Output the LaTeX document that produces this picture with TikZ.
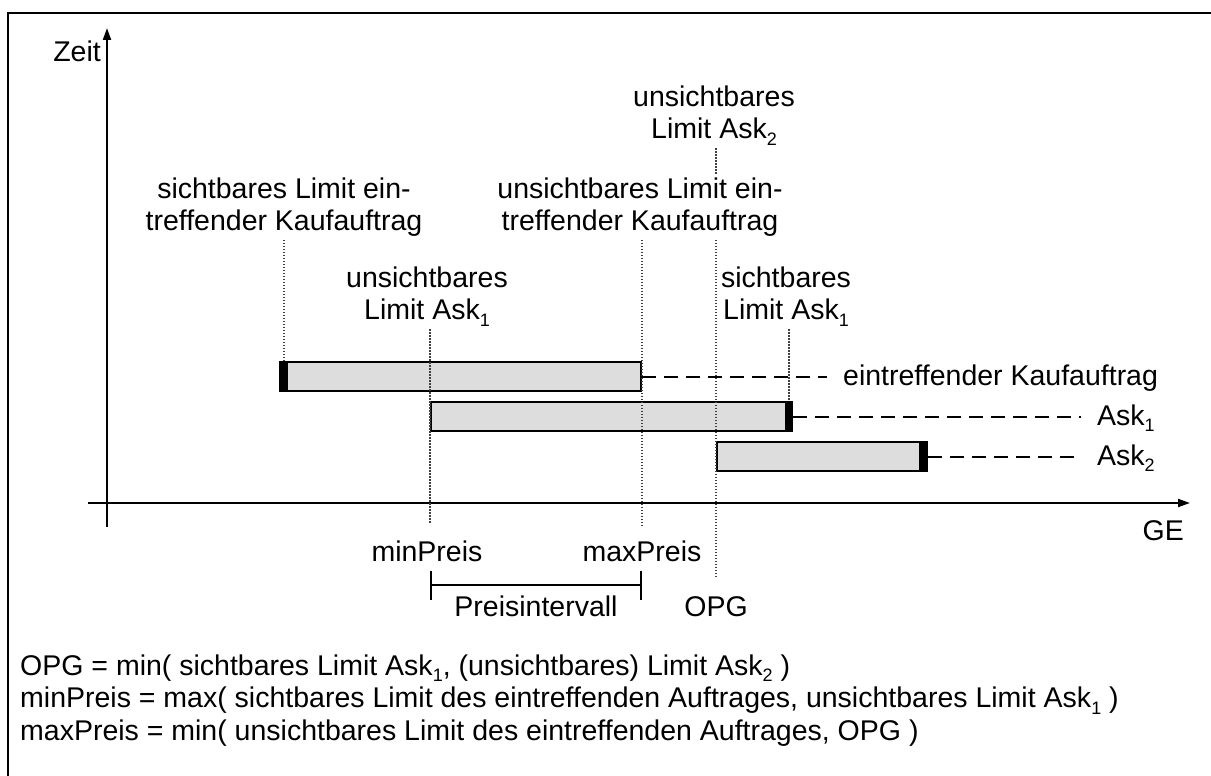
\documentclass[tikz,border=0pt]{standalone}
\usepackage{fontspec}
\setmainfont{Liberation Sans}
\usetikzlibrary{positioning}
\usetikzlibrary{arrows.meta}

\definecolor{balkengrau}{HTML}{DDDDDD}
\newcommand{\tief}[1]{\raisebox{-0.22em}{\fontsize{18}{18}\selectfont #1}}

\tikzset{
  achse/.style={line width=2pt, -{Triangle[length=12pt,width=8pt]}},
  balken/.style={draw, line width=2pt, fill=balkengrau, inner sep=0pt, minimum height=29pt, anchor=north west},
  punktlinie/.style={line width=1.5pt, black!75, dash pattern=on 1.5pt off 1.5pt},
  strichlinie/.style={line width=2pt, dash pattern=on 14pt off 8pt},
  beschriftung/.style={align=center, inner xsep=0pt, inner ysep=3pt, anchor=north},
  balkentext/.style={inner xsep=16pt, inner ysep=0pt, anchor=base west},
  achstext/.style={inner sep=0pt, anchor=base},
}

\begin{document}
\begin{tikzpicture}[x=1pt, y=-1pt, font=\fontsize{28.5}{32.5}\selectfont]
\useasboundingbox (0,0) rectangle (1211,776);
\draw[line width=2.5pt] (8,13) rectangle (1260,820);

% Achsen
\coordinate (yfuss) at (107,527);
\coordinate (yspitze) at (107,28);
\coordinate (xfuss) at (88,503);
\coordinate (xspitze) at (1190,503);
\draw[achse] (yfuss) -- (yspitze);
\draw[achse] (xfuss) -- (xspitze);
\node[inner sep=0pt, anchor=base east] (zeit) at (101,62) {Zeit};
\node[inner sep=0pt, anchor=base east] (ge) at (1184,540) {GE};

% Balken
\node[balken, minimum width=361pt] (kauf) at (279,361) {};
\node[balken, minimum width=361pt] (ask1) at (430,401) {};
\node[balken, minimum width=210pt] (ask2) at (716,441) {};
\fill (kauf.north west) rectangle ([xshift=9pt]kauf.south west);
\fill ([xshift=-8pt]ask1.north east) rectangle (ask1.south east);
\fill ([xshift=-9pt]ask2.north east) rectangle (ask2.south east);

\node[balkentext] (kauftext) at (827,385.5) {eintreffender Kaufauftrag};
\node[balkentext] (ask1text) at (1081,425.5) {Ask\tief{1}};
\node[balkentext] (ask2text) at (1081,465) {Ask\tief{2}};
\draw[strichlinie] (kauf.east) -- (kauf.east -| kauftext.west);
\draw[strichlinie] (ask1.east) -- (ask1.east -| ask1text.west);
\draw[strichlinie] (ask2.east) -- (ask2.east -| ask2text.west);

% Limits oben
\node[beschriftung] (limkaufs) at (284,174.5) {sichtbares Limit ein-\\treffender Kaufauftrag};
\node[beschriftung] (limkaufu) at (640,174.5) {unsichtbares Limit ein-\\treffender Kaufauftrag};
\node[beschriftung] (limask1u) at (427,263.5) {unsichtbares\\Limit Ask\tief{1}};
\node[beschriftung] (limask1s) at (786,263.5) {sichtbares\\Limit Ask\tief{1}};
\node[beschriftung] (limask2u) at (714,82.5) {unsichtbares\\Limit Ask\tief{2}};

% Preise unten
\node[achstext] (minpreis) at (427,561) {minPreis};
\node[achstext] (maxpreis) at (642,561) {maxPreis};
\node[achstext] (opg) at (716,616) {OPG};
\node[achstext] (intervall) at (536,616) {Preisintervall};
\coordinate (imin) at (430,585);
\coordinate (imax) at (642,585);
\draw[line width=2pt, {Bar[width=29pt]}-{Bar[width=29pt]}] (imin) -- (imax);

% Hilfslinien
\coordinate (minende) at (430,523);
\coordinate (maxende) at (642,527);
\coordinate (opgende) at (716,578);
\coordinate (ask1grenze) at ([xshift=-4pt]ask1.north east);
\draw[punktlinie] (limkaufs.south) -- (limkaufs.south |- kauf.north);
\draw[punktlinie] (minende |- limask1u.south) -- (minende);
\draw[punktlinie] (maxende |- limkaufu.south) -- (maxende);
\draw[punktlinie] (opgende |- limask2u.south) -- (opgende |- limkaufu.north);
\draw[punktlinie] (opgende |- limkaufu.south) -- (opgende);
\draw[punktlinie] (ask1grenze |- limask1s.south) -- (ask1grenze);

% Formeln
\node[anchor=north west, align=left, inner sep=0pt] (formeln) at (20,654.5) {OPG = min( sichtbares Limit Ask\tief{1}, (unsichtbares) Limit Ask\tief{2} )\\minPreis = max( sichtbares Limit des eintreffenden Auftrages, unsichtbares Limit Ask\tief{1} )\\maxPreis = min( unsichtbares Limit des eintreffenden Auftrages, OPG )};
\end{tikzpicture}
\end{document}
